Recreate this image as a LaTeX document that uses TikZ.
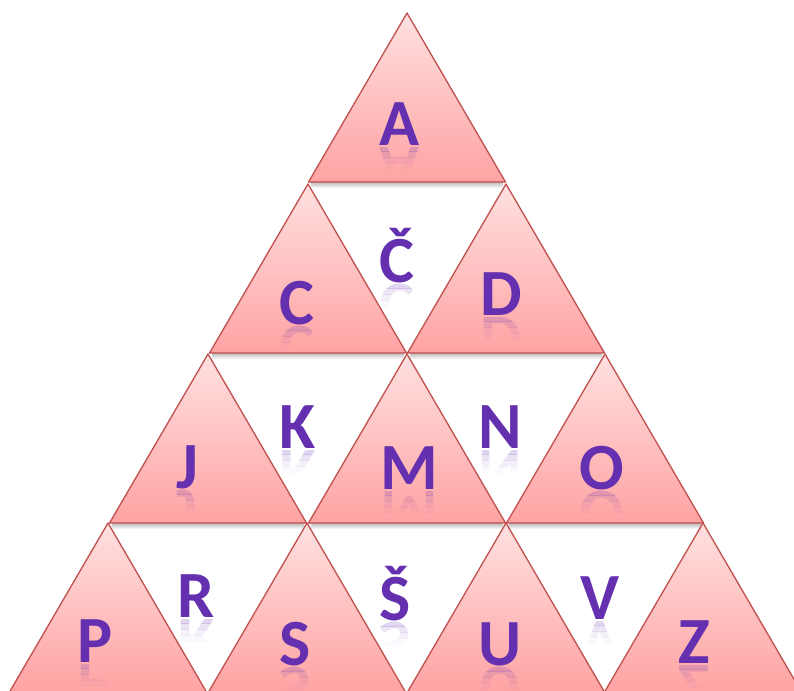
\documentclass[tikz,border=0pt]{standalone}
\usepackage{fontspec}
\setmainfont{Carlito}
\usetikzlibrary{fadings}
\definecolor{edge}{HTML}{C0504D}
\definecolor{topc}{HTML}{FFE0E0}
\definecolor{botc}{HTML}{FFA3A3}
\definecolor{lett}{HTML}{6430B0}
\tikzset{
  tri/.style={draw=edge, line width=1.3pt, line join=round, top color=topc, bottom color=botc},
  lt/.style={anchor=base, inner sep=0pt, text=lett, font=\fontsize{66}{66}\selectfont\bfseries},
  shad/.style={fill=black, opacity=0.28, path fading=south}
}
\newcommand\tri[2]{%
  \fill[shad] ({#1-96},{#2+169}) rectangle ({#1+96},{#2+175});
  \path[tri] (#1,#2) -- ++(98.5,169) -- ++(-197,0) -- cycle;}
\newcommand\band[6]{% name x y text from to opacity
  \begin{scope}
    \clip ({#2-45},{#3+#5}) rectangle ({#2+45},{#3+#6});
    \node[lt, yscale=-1, opacity=#1] at (#2,{#3+2}) {#4};
  \end{scope}}
\newcommand\letr[4]{%
  \node[lt] (#1) at (#2,#3) {#4};
  \band{0.2}{#2}{#3}{#4}{1}{6}%
  \band{0.13}{#2}{#3}{#4}{6}{12}%
  \band{0.07}{#2}{#3}{#4}{12}{18}%
  \band{0.03}{#2}{#3}{#4}{18}{24}}
\begin{document}
\begin{tikzpicture}[x=1pt,y=-1pt]
\useasboundingbox (0,0) rectangle (794,690);
\clip (0,0) rectangle (794,690);
% triangles
\tri{407}{13}
\tri{308}{184}
\tri{506}{184}
\tri{208}{354}
\tri{407}{354}
\tri{605}{354}
\tri{108}{523}
\tri{307}{523}
\tri{506}{523}
\tri{703}{523}
% letters
\letr{a}{399}{145}{A}
\letr{cc}{397}{282}{Č}
\letr{c}{297}{324}{C}
\letr{d}{501}{315}{D}
\letr{j}{187}{488}{J}
\letr{k}{298}{448}{K}
\letr{m}{409}{489}{M}
\letr{n}{500}{448}{N}
\letr{o}{602}{489}{O}
\letr{p}{95}{662}{P}
\letr{r}{196}{617}{R}
\letr{ss}{395}{620}{Š}
\letr{s}{295}{665}{S}
\letr{u}{500}{665}{U}
\letr{v}{600}{619}{V}
\letr{z}{694}{663}{Z}
\end{tikzpicture}
\end{document}
